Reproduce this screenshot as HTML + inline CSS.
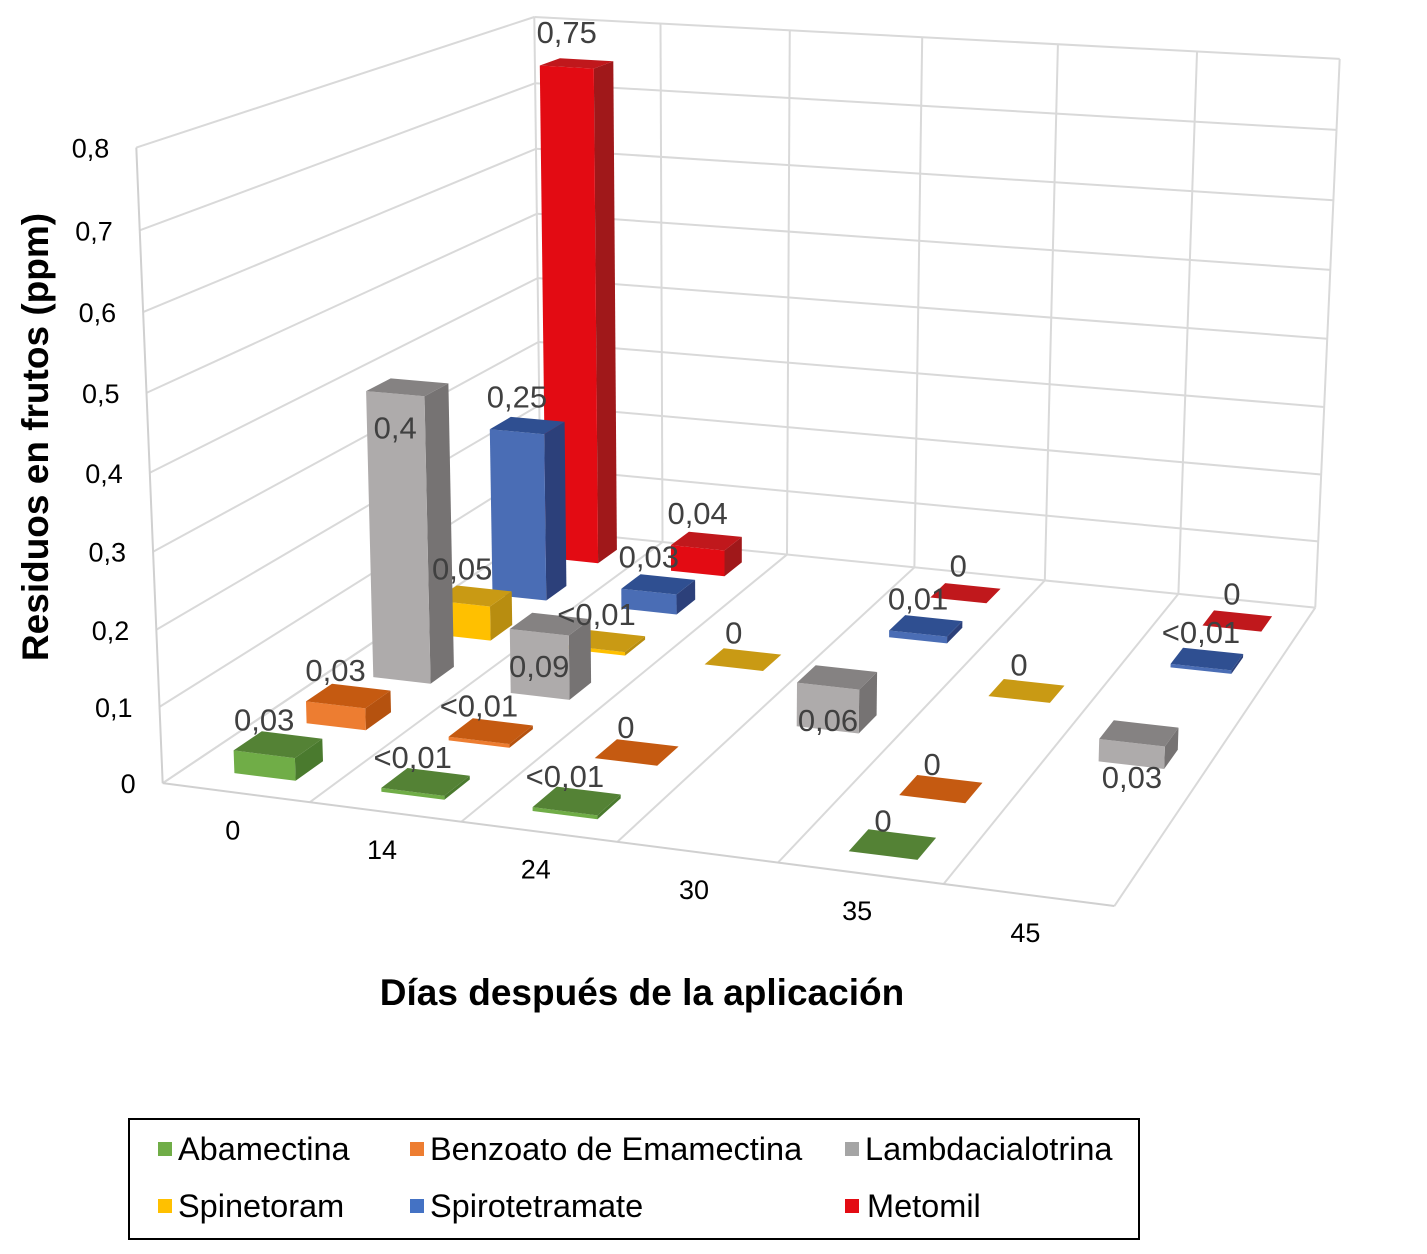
<!DOCTYPE html>
<html><head><meta charset="utf-8"><style>
body{margin:0;background:#fff;}
svg text{font-family:"Liberation Sans",Arial,sans-serif;}
</style></head><body>
<svg id="chart" width="1427" height="1249" viewBox="0 0 1427 1249" xmlns="http://www.w3.org/2000/svg">
<g id="grid"></g>
<g id="bars"></g>
<g id="labels"></g>
<g id="ticks"></g>
<text x="642" y="1005" font-size="37" font-weight="bold" text-anchor="middle" fill="#000">Días después de la aplicación</text>
<text transform="translate(48,437) rotate(-90)" font-size="37" font-weight="bold" text-anchor="middle" fill="#000">Residuos en frutos (ppm)</text>
<g>
<rect x="129" y="1119" width="1010" height="120" fill="#fff" stroke="#000" stroke-width="2"/>
<g><rect x="158" y="1142" width="14" height="14" fill="#70ad47"/><text x="178" y="1160" font-size="32.5">Abamectina</text></g>
<g><rect x="410" y="1142" width="14" height="14" fill="#ed7d31"/><text x="430" y="1160" font-size="32.5">Benzoato de Emamectina</text></g>
<g><rect x="845" y="1142" width="14" height="14" fill="#a5a5a5"/><text x="865" y="1160" font-size="32.5">Lambdacialotrina</text></g>
<g><rect x="158" y="1199" width="14" height="14" fill="#ffc000"/><text x="178" y="1217" font-size="32.5">Spinetoram</text></g>
<g><rect x="410" y="1199" width="14" height="14" fill="#4472c4"/><text x="430" y="1217" font-size="32.5">Spirotetramate</text></g>
<g><rect x="845" y="1199" width="14" height="14" fill="#e30b13"/><text x="867" y="1217" font-size="32.5">Metomil</text></g>
</g>
</svg>
<script>
const categories = ["0","14","24","30","35","45"];
const seriesNames = ["Abamectina","Benzoato de Emamectina","Lambdacialotrina","Spinetoram","Spirotetramate","Metomil"];
const abamectina = [0.03, 0.005, 0.005, null, 0, null];
const benzoato = [0.03, 0.005, 0, null, 0, null];
const lambda = [0.4, 0.09, null, 0.06, null, 0.03];
const spinetoram = [0.05, 0.005, 0, null, 0, null];
const spirotetramate = [0.25, 0.03, null, 0.01, null, 0.005];
const metomil = [0.75, 0.04, null, 0, null, 0];
const abamectinaLabels = ["0,03","<0,01","<0,01","","0",""];
const benzoatoLabels = ["0,03","<0,01","0","","0",""];
const lambdaLabels = ["0,4","0,09","","0,06","","0,03"];
const spinetoramLabels = ["0,05","<0,01","0","","0",""];
const spirotetramateLabels = ["0,25","0,03","","0,01","","<0,01"];
const metomilLabels = ["0,75","0,04","","0","","0"];
const yTicks = [0,0.1,0.2,0.3,0.4,0.5,0.6,0.7,0.8];
const yTickLabels = ["0","0,1","0,2","0,3","0,4","0,5","0,6","0,7","0,8"];

const allSeries=[abamectina,benzoato,lambda,spinetoram,spirotetramate,metomil];
const allLabels=[abamectinaLabels,benzoatoLabels,lambdaLabels,spinetoramLabels,spirotetramateLabels,metomilLabels];
const labelShift=[-24,-24,45,-24,-24,-24];
const cols=[["#70ad47","#548235","#4a7a2e"],["#ed7d31","#c55a11","#b5520f"],["#aeabab","#858282","#767373"],["#ffc000","#c99a14","#b88d10"],["#4a6db5","#2f4f91","#2c407a"],["#e30b13","#c0181c","#a0181a"]];
const NS="http://www.w3.org/2000/svg";
const calib=[[0,0,0,162,781],[0,8,0,133,148],[0,0,6,537,530],[0,8,6,537,15],[6,0,0,1113,908],[6,0,6,1315,607],[6,8,6,1338,57],
 [1,0,0,313,801],[3,0,0,620,842],[5,0,0,943,885],[1,0,6,662,543],[3,0,6,915,568],[5,0,6,1180,593],[1,8,6,662,27]];
function solve(){
  const A=[],b=[];
  for(const [X,Y,Z,u,v] of calib){
    A.push([X,Y,Z,1,0,0,0,0,-u*X,-u*Y,-u*Z]);b.push(u);
    A.push([0,0,0,0,X,Y,Z,1,-v*X,-v*Y,-v*Z]);b.push(v);
  }
  const n=11,M=[];
  for(let i=0;i<n;i++){M.push([]);for(let j=0;j<n;j++){let s=0;for(let k=0;k<A.length;k++)s+=A[k][i]*A[k][j];M[i].push(s);}let s=0;for(let k=0;k<A.length;k++)s+=A[k][i]*b[k];M[i].push(s);}
  for(let i=0;i<n;i++){let p=i;for(let r=i+1;r<n;r++)if(Math.abs(M[r][i])>Math.abs(M[p][i]))p=r;[M[i],M[p]]=[M[p],M[i]];
    for(let r=0;r<n;r++){if(r==i)continue;const f=M[r][i]/M[i][i];for(let c=i;c<=n;c++)M[r][c]-=f*M[i][c];}}
  return M.map((r,i)=>r[n]/r[i]);
}
const P=solve();
function proj(X,Y,Z){const w=P[8]*X+P[9]*Y+P[10]*Z+1;return[(P[0]*X+P[1]*Y+P[2]*Z+P[3])/w,(P[4]*X+P[5]*Y+P[6]*Z+P[7])/w];}
function yScale(v){return v*10;}
function line(g,a,b,c,w){const l=document.createElementNS(NS,'line');l.setAttribute('x1',a[0]);l.setAttribute('y1',a[1]);l.setAttribute('x2',b[0]);l.setAttribute('y2',b[1]);l.setAttribute('stroke',c);l.setAttribute('stroke-width',w);


g.appendChild(l);}
const grid=document.getElementById('grid');
yTicks.forEach(t=>{const y=yScale(t);
  line(grid,proj(0,y,0),proj(0,y,6),'#d9d9d9',2);
  line(grid,proj(0,y,6),proj(6,y,6),'#d9d9d9',2);});
for(let c=0;c<=6;c++){line(grid,proj(c,0,6),proj(c,8,6),'#d9d9d9',2);line(grid,proj(c,0,0),proj(c,0,6),'#d9d9d9',2);}
line(grid,proj(0,0,0),proj(6,0,0),'#d0d0d0',2);
line(grid,proj(0,0,0),proj(0,8,0),'#d0d0d0',2);
const ticks=document.getElementById('ticks');
yTicks.forEach((t,i)=>{const p=proj(0,yScale(t),0);const tx=document.createElementNS(NS,'text');tx.setAttribute('x',p[0]-27);tx.setAttribute('y',p[1]+10);tx.setAttribute('text-anchor','end');tx.setAttribute('font-size','27');tx.textContent=yTickLabels[i];


ticks.appendChild(tx);});
categories.forEach((c,i)=>{const p=proj(i+0.5,0,0);const tx=document.createElementNS(NS,'text');tx.setAttribute('x',p[0]-3);tx.setAttribute('y',p[1]+47);tx.setAttribute('text-anchor','middle');tx.setAttribute('font-size','27');tx.textContent=c;


ticks.appendChild(tx);});
const bars=document.getElementById('bars'),labels=document.getElementById('labels');
function poly(ptsArr,fill){const p=document.createElementNS(NS,'polygon');p.setAttribute('points',ptsArr.map(q=>q[0].toFixed(1)+','+q[1].toFixed(1)).join(' '));p.setAttribute('fill',fill);return p;}
const bw=0.42,bd=0.38,xoff=0.54;
for(let r=5;r>=0;r--){
  for(let c=5;c>=0;c--){
    const v=allSeries[r][c];if(v===null)continue;
    const x0=c+xoff-bw/2,x1=c+xoff+bw/2,z0=r+0.5-bd/2,z1=r+0.5+bd/2,h=yScale(v);
    const g=document.createElementNS(NS,'g');
    
    
    if(h>0){
      g.appendChild(poly([proj(x1,0,z0),proj(x1,0,z1),proj(x1,h,z1),proj(x1,h,z0)],cols[r][2]));
      g.appendChild(poly([proj(x0,0,z0),proj(x1,0,z0),proj(x1,h,z0),proj(x0,h,z0)],cols[r][0]));
    }
    g.appendChild(poly([proj(x0,h,z0),proj(x1,h,z0),proj(x1,h,z1),proj(x0,h,z1)],cols[r][1]));
    bars.appendChild(g);
    const lp=proj(c+xoff,h,z0);
    const t=document.createElementNS(NS,'text');t.setAttribute('x',lp[0]);t.setAttribute('y',lp[1]+labelShift[r]);t.setAttribute('text-anchor','middle');t.setAttribute('font-size','31');t.setAttribute('fill','#404040');t.textContent=allLabels[r][c];
    
    
    labels.appendChild(t);
  }
}
</script>
</body></html>
